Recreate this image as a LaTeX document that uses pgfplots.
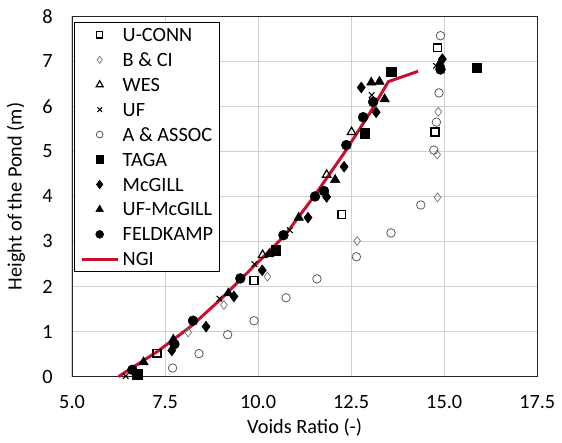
\documentclass[border=0pt]{standalone}
\usepackage{fontspec}
\setmainfont{Carlito}
\usepackage{pgfplots}
\pgfplotsset{compat=1.18}
\definecolor{ngired}{RGB}{200,16,46}
\definecolor{gridgray}{RGB}{208,208,208}
\pgfplotsset{
  legimg/.style={legend image code/.code={\path[draw=none,fill=none] (0pt,0pt) -- (36.6pt,0pt); \draw[##1] (0pt,0pt) -- (36.6pt,0pt);}},
  legimgm/.style={legend image code/.code={\path[draw=none,fill=none] (0pt,0pt) -- (36.6pt,0pt); \draw[##1,mark size=0.8*\pgfplotmarksize] plot coordinates {(18.3pt,0pt)};}}
}
\begin{document}
\fontsize{20.5}{24}\selectfont
\begin{tikzpicture}
\begin{axis}[name=ax, scale only axis, width=470pt, height=364pt,
  xmin=5, xmax=17.5, ymin=0, ymax=8,
  xtick={5,7.5,10,12.5,15,17.5}, ytick={0,1,...,8},
  grid=major, grid style={gridgray, line width=1.2pt},
  axis line style={black!85, line width=0.9pt},
  major tick length=0pt,
  clip=false,
  /pgf/number format/assume math mode=true,
  ticklabel style={font=\fontsize{20.5}{24}\selectfont},
  xticklabel style={/pgf/number format/.cd, fixed, fixed zerofill, precision=1, /tikz/.cd, yshift=-12pt},
  yticklabel style={xshift=-12.5pt},
  xlabel={Voids Ratio (-)}, ylabel={Height of the Pond (m)},
  label style={font=\fontsize{20.5}{24}\selectfont},
  xlabel style={at={(axis description cs:0.5,0)}, anchor=base, yshift=-57.3pt},
  ylabel style={at={(axis description cs:-0.1085,0.5)}, anchor=base},
  legend style={at={(axis description cs:0.0036,0.983)}, anchor=north west, draw=black, line width=0.8pt, fill=white,
    font=\fontsize{20.5}{24}\selectfont, inner xsep=6pt, inner ysep=5.5pt, row sep=12pt, column sep=3.5pt,
    nodes={inner sep=0pt, text height=13.2pt, text depth=0pt}},
  legend cell align=left,
]
% U-CONN
\addplot[only marks, mark=square, mark size=4pt, black, line width=1.3pt, mark options={fill=white}, legimgm] coordinates {
(7.28,0.52) (9.89,2.14) (12.25,3.60) (14.75,5.43) (14.82,7.30)};
\addlegendentry{U-CONN}
% B & CI
\addplot[only marks, mark=diamond, mark size=4.5pt, black!55, line width=0.7pt, mark options={fill=white}, legimgm] coordinates {
(8.12,0.98) (9.08,1.59) (10.25,2.22) (12.66,3.01) (14.82,3.98) (14.81,4.93) (14.84,5.88)};
\addlegendentry{B \& CI}
% WES
\addplot[only marks, mark=triangle, mark size=5pt, black, line width=1.2pt, mark options={fill=white}, legimgm] coordinates {
(10.12,2.70) (11.84,4.48) (12.51,5.43)};
\addlegendentry{WES}
% UF
\addplot[only marks, mark=x, mark size=4pt, black, line width=1.1pt, legimgm] coordinates {
(6.44,0.01) (8.96,1.73) (9.90,2.50) (10.85,3.25) (13.05,6.25) (14.78,6.90)};
\addlegendentry{UF}
% A & ASSOC
\addplot[only marks, mark=o, mark size=4.3pt, black!65, line width=0.8pt, legimgm] coordinates {
(7.70,0.19) (8.41,0.51) (9.18,0.93) (9.89,1.24) (10.75,1.75) (11.58,2.17) (12.64,2.66) (13.57,3.19) (14.37,3.81) (14.72,5.03) (14.79,5.65) (14.86,6.30) (14.90,7.57)};
\addlegendentry{A \& ASSOC}
% TAGA
\addplot[only marks, mark=square*, mark size=4.8pt, black, line width=0.5pt, legimgm] coordinates {
(6.75,0.05) (10.47,2.80) (12.86,5.40) (13.57,6.77) (15.88,6.86)};
\addlegendentry{TAGA}
% McGILL
\addplot[only marks, mark=diamond*, mark size=5.5pt, black, line width=0.5pt, legimgm] coordinates {
(6.70,0.08) (7.68,0.58) (8.60,1.11) (9.35,1.78) (10.11,2.36) (11.34,3.53) (11.84,3.99) (12.31,4.66) (13.17,5.87) (12.77,6.42) (14.95,7.05)};
\addlegendentry{McGILL}
% UF-McGILL
\addplot[only marks, mark=triangle*, mark size=5.5pt, black, line width=0.5pt, legimgm] coordinates {
(6.92,0.32) (7.72,0.82) (9.20,1.85) (10.30,2.72) (11.09,3.53) (12.07,4.37) (13.40,6.16) (13.04,6.53) (13.26,6.55) (14.88,6.95)};
\addlegendentry{UF-McGILL}
% FELDKAMP
\addplot[only marks, mark=*, mark size=5pt, black, line width=0.5pt, legimgm] coordinates {
(6.62,0.15) (7.75,0.72) (8.25,1.24) (9.52,2.18) (10.68,3.14) (11.53,4.00) (11.77,4.12) (12.37,5.14) (12.82,5.76) (13.09,6.10) (14.90,6.82)};
\addlegendentry{FELDKAMP}
% NGI
\addplot[ngired, line width=3pt, no markers, legimg] coordinates {
(6.25,0) (7.3,0.56) (8.2,1.12) (9.0,1.72) (9.8,2.38) (10.7,3.12) (11.5,4.0) (12.3,4.95) (13.0,5.85) (13.5,6.55) (14.3,6.78)};
\addlegendentry{NGI}
\end{axis}
\path ([shift={(-71pt,-61.3pt)}]ax.south west) rectangle ([shift={(21pt,16.5pt)}]ax.north east);
\end{tikzpicture}
\end{document}
